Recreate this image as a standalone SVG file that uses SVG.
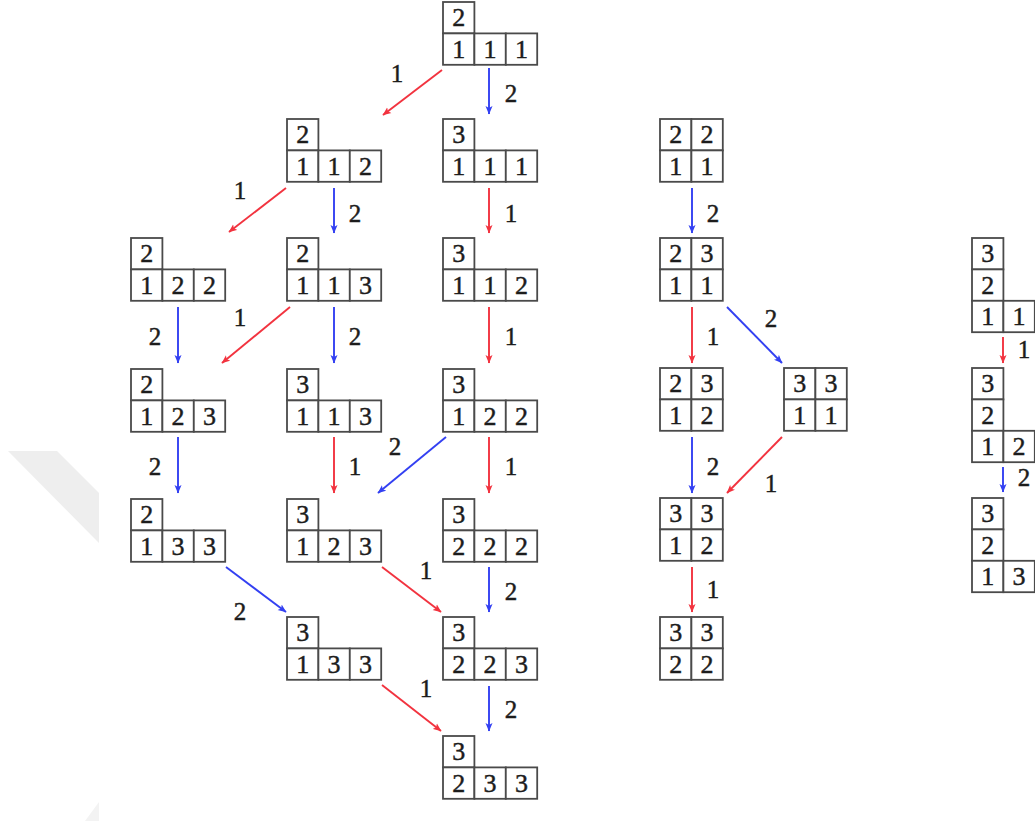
<svg xmlns="http://www.w3.org/2000/svg" width="1035" height="832" viewBox="0 0 1035 832">
<style>
.c{fill:#fff;stroke:#4a4a4a;stroke-width:1.8}
.t{font-family:"Liberation Serif","DejaVu Serif",serif;font-size:26px;fill:#1c1c1c;stroke:#1c1c1c;stroke-width:0.45;text-anchor:middle}
.l{font-family:"Liberation Serif","DejaVu Serif",serif;font-size:25px;fill:#1c1c1c;stroke:#1c1c1c;stroke-width:0.45;text-anchor:middle}
.r{stroke:#f2333f;stroke-width:1.9;fill:none;marker-end:url(#ar)}
.b{stroke:#3340f2;stroke-width:1.9;fill:none;marker-end:url(#ab)}
</style>
<defs>
<marker id="ar" markerUnits="userSpaceOnUse" markerWidth="10" markerHeight="8" refX="8" refY="4" orient="auto"><path d="M0,0.5 L8.5,4 L0,7.5 L2,4 z" fill="#f2333f"/></marker>
<marker id="ab" markerUnits="userSpaceOnUse" markerWidth="10" markerHeight="8" refX="8" refY="4" orient="auto"><path d="M0,0.5 L8.5,4 L0,7.5 L2,4 z" fill="#3340f2"/></marker>
</defs>
<rect width="1035" height="832" fill="#fff"/>
<g id="watermark">
<polygon points="8,451 57,451 99,493 99,543" fill="#eeeeee"/>
<polygon points="99,802 99,821 85,821" fill="#f3f3f3"/>
</g>
<g id="connectors">
<line class="r" x1="442" y1="70" x2="383" y2="115"/><text class="l" x="397" y="82">1</text>
<line class="b" x1="489" y1="68" x2="489" y2="114"/><text class="l" x="511" y="102">2</text>
<line class="r" x1="286" y1="188" x2="229" y2="232"/><text class="l" x="240" y="199">1</text>
<line class="b" x1="334" y1="188" x2="334" y2="233"/><text class="l" x="355" y="222">2</text>
<line class="r" x1="489" y1="188" x2="489" y2="233"/><text class="l" x="511" y="222">1</text>
<line class="b" x1="178" y1="307" x2="178" y2="363"/><text class="l" x="155" y="345">2</text>
<line class="r" x1="290" y1="307" x2="222" y2="363"/><text class="l" x="240" y="326">1</text>
<line class="b" x1="334" y1="307" x2="334" y2="363"/><text class="l" x="355" y="345">2</text>
<line class="r" x1="489" y1="307" x2="489" y2="363"/><text class="l" x="511" y="345">1</text>
<line class="b" x1="178" y1="437" x2="178" y2="493"/><text class="l" x="155" y="475">2</text>
<line class="r" x1="334" y1="437" x2="334" y2="493"/><text class="l" x="355" y="475">1</text>
<line class="b" x1="446" y1="437" x2="378" y2="493"/><text class="l" x="395" y="455">2</text>
<line class="r" x1="489" y1="437" x2="489" y2="493"/><text class="l" x="511" y="475">1</text>
<line class="b" x1="226" y1="567" x2="286" y2="612"/><text class="l" x="240" y="620">2</text>
<line class="r" x1="382" y1="567" x2="441" y2="612"/><text class="l" x="426" y="579">1</text>
<line class="b" x1="489" y1="567" x2="489" y2="612"/><text class="l" x="511" y="600">2</text>
<line class="r" x1="382" y1="685" x2="441" y2="731"/><text class="l" x="426" y="697">1</text>
<line class="b" x1="489" y1="686" x2="489" y2="731"/><text class="l" x="511" y="718">2</text>
<line class="b" x1="692" y1="188" x2="692" y2="233"/><text class="l" x="713" y="222">2</text>
<line class="r" x1="692" y1="307" x2="692" y2="363"/><text class="l" x="713" y="345">1</text>
<line class="b" x1="727" y1="307" x2="782" y2="363"/><text class="l" x="771" y="327">2</text>
<line class="b" x1="692" y1="437" x2="692" y2="493"/><text class="l" x="713" y="475">2</text>
<line class="r" x1="782" y1="437" x2="727" y2="493"/><text class="l" x="771" y="492">1</text>
<line class="r" x1="692" y1="567" x2="692" y2="612"/><text class="l" x="713" y="598">1</text>
<line class="r" x1="1003" y1="337" x2="1003" y2="363"/><text class="l" x="1024" y="358">1</text>
<line class="b" x1="1003" y1="467" x2="1003" y2="492"/><text class="l" x="1024" y="486">2</text>
</g>
<g id="n-A" transform="translate(443,2)"><rect class="c" x="0" y="0" width="31.4" height="31.4"/><rect class="c" x="0" y="31.4" width="31.4" height="31.4"/><rect class="c" x="31.4" y="31.4" width="31.4" height="31.4"/><rect class="c" x="62.8" y="31.4" width="31.4" height="31.4"/><text class="t" x="15.7" y="24.4">2</text><text class="t" x="15.7" y="55.8">1</text><text class="t" x="47.1" y="55.8">1</text><text class="t" x="78.5" y="55.8">1</text></g>
<g id="n-B" transform="translate(287,119)"><rect class="c" x="0" y="0" width="31.4" height="31.4"/><rect class="c" x="0" y="31.4" width="31.4" height="31.4"/><rect class="c" x="31.4" y="31.4" width="31.4" height="31.4"/><rect class="c" x="62.8" y="31.4" width="31.4" height="31.4"/><text class="t" x="15.7" y="24.4">2</text><text class="t" x="15.7" y="55.8">1</text><text class="t" x="47.1" y="55.8">1</text><text class="t" x="78.5" y="55.8">2</text></g>
<g id="n-C" transform="translate(443,119)"><rect class="c" x="0" y="0" width="31.4" height="31.4"/><rect class="c" x="0" y="31.4" width="31.4" height="31.4"/><rect class="c" x="31.4" y="31.4" width="31.4" height="31.4"/><rect class="c" x="62.8" y="31.4" width="31.4" height="31.4"/><text class="t" x="15.7" y="24.4">3</text><text class="t" x="15.7" y="55.8">1</text><text class="t" x="47.1" y="55.8">1</text><text class="t" x="78.5" y="55.8">1</text></g>
<g id="n-D" transform="translate(131,238)"><rect class="c" x="0" y="0" width="31.4" height="31.4"/><rect class="c" x="0" y="31.4" width="31.4" height="31.4"/><rect class="c" x="31.4" y="31.4" width="31.4" height="31.4"/><rect class="c" x="62.8" y="31.4" width="31.4" height="31.4"/><text class="t" x="15.7" y="24.4">2</text><text class="t" x="15.7" y="55.8">1</text><text class="t" x="47.1" y="55.8">2</text><text class="t" x="78.5" y="55.8">2</text></g>
<g id="n-E" transform="translate(287,238)"><rect class="c" x="0" y="0" width="31.4" height="31.4"/><rect class="c" x="0" y="31.4" width="31.4" height="31.4"/><rect class="c" x="31.4" y="31.4" width="31.4" height="31.4"/><rect class="c" x="62.8" y="31.4" width="31.4" height="31.4"/><text class="t" x="15.7" y="24.4">2</text><text class="t" x="15.7" y="55.8">1</text><text class="t" x="47.1" y="55.8">1</text><text class="t" x="78.5" y="55.8">3</text></g>
<g id="n-F" transform="translate(443,238)"><rect class="c" x="0" y="0" width="31.4" height="31.4"/><rect class="c" x="0" y="31.4" width="31.4" height="31.4"/><rect class="c" x="31.4" y="31.4" width="31.4" height="31.4"/><rect class="c" x="62.8" y="31.4" width="31.4" height="31.4"/><text class="t" x="15.7" y="24.4">3</text><text class="t" x="15.7" y="55.8">1</text><text class="t" x="47.1" y="55.8">1</text><text class="t" x="78.5" y="55.8">2</text></g>
<g id="n-G" transform="translate(131,369)"><rect class="c" x="0" y="0" width="31.4" height="31.4"/><rect class="c" x="0" y="31.4" width="31.4" height="31.4"/><rect class="c" x="31.4" y="31.4" width="31.4" height="31.4"/><rect class="c" x="62.8" y="31.4" width="31.4" height="31.4"/><text class="t" x="15.7" y="24.4">2</text><text class="t" x="15.7" y="55.8">1</text><text class="t" x="47.1" y="55.8">2</text><text class="t" x="78.5" y="55.8">3</text></g>
<g id="n-H" transform="translate(287,369)"><rect class="c" x="0" y="0" width="31.4" height="31.4"/><rect class="c" x="0" y="31.4" width="31.4" height="31.4"/><rect class="c" x="31.4" y="31.4" width="31.4" height="31.4"/><rect class="c" x="62.8" y="31.4" width="31.4" height="31.4"/><text class="t" x="15.7" y="24.4">3</text><text class="t" x="15.7" y="55.8">1</text><text class="t" x="47.1" y="55.8">1</text><text class="t" x="78.5" y="55.8">3</text></g>
<g id="n-I" transform="translate(443,369)"><rect class="c" x="0" y="0" width="31.4" height="31.4"/><rect class="c" x="0" y="31.4" width="31.4" height="31.4"/><rect class="c" x="31.4" y="31.4" width="31.4" height="31.4"/><rect class="c" x="62.8" y="31.4" width="31.4" height="31.4"/><text class="t" x="15.7" y="24.4">3</text><text class="t" x="15.7" y="55.8">1</text><text class="t" x="47.1" y="55.8">2</text><text class="t" x="78.5" y="55.8">2</text></g>
<g id="n-J" transform="translate(131,499)"><rect class="c" x="0" y="0" width="31.4" height="31.4"/><rect class="c" x="0" y="31.4" width="31.4" height="31.4"/><rect class="c" x="31.4" y="31.4" width="31.4" height="31.4"/><rect class="c" x="62.8" y="31.4" width="31.4" height="31.4"/><text class="t" x="15.7" y="24.4">2</text><text class="t" x="15.7" y="55.8">1</text><text class="t" x="47.1" y="55.8">3</text><text class="t" x="78.5" y="55.8">3</text></g>
<g id="n-K" transform="translate(287,499)"><rect class="c" x="0" y="0" width="31.4" height="31.4"/><rect class="c" x="0" y="31.4" width="31.4" height="31.4"/><rect class="c" x="31.4" y="31.4" width="31.4" height="31.4"/><rect class="c" x="62.8" y="31.4" width="31.4" height="31.4"/><text class="t" x="15.7" y="24.4">3</text><text class="t" x="15.7" y="55.8">1</text><text class="t" x="47.1" y="55.8">2</text><text class="t" x="78.5" y="55.8">3</text></g>
<g id="n-L" transform="translate(443,499)"><rect class="c" x="0" y="0" width="31.4" height="31.4"/><rect class="c" x="0" y="31.4" width="31.4" height="31.4"/><rect class="c" x="31.4" y="31.4" width="31.4" height="31.4"/><rect class="c" x="62.8" y="31.4" width="31.4" height="31.4"/><text class="t" x="15.7" y="24.4">3</text><text class="t" x="15.7" y="55.8">2</text><text class="t" x="47.1" y="55.8">2</text><text class="t" x="78.5" y="55.8">2</text></g>
<g id="n-M" transform="translate(287,617)"><rect class="c" x="0" y="0" width="31.4" height="31.4"/><rect class="c" x="0" y="31.4" width="31.4" height="31.4"/><rect class="c" x="31.4" y="31.4" width="31.4" height="31.4"/><rect class="c" x="62.8" y="31.4" width="31.4" height="31.4"/><text class="t" x="15.7" y="24.4">3</text><text class="t" x="15.7" y="55.8">1</text><text class="t" x="47.1" y="55.8">3</text><text class="t" x="78.5" y="55.8">3</text></g>
<g id="n-N" transform="translate(443,617)"><rect class="c" x="0" y="0" width="31.4" height="31.4"/><rect class="c" x="0" y="31.4" width="31.4" height="31.4"/><rect class="c" x="31.4" y="31.4" width="31.4" height="31.4"/><rect class="c" x="62.8" y="31.4" width="31.4" height="31.4"/><text class="t" x="15.7" y="24.4">3</text><text class="t" x="15.7" y="55.8">2</text><text class="t" x="47.1" y="55.8">2</text><text class="t" x="78.5" y="55.8">3</text></g>
<g id="n-O" transform="translate(443,736)"><rect class="c" x="0" y="0" width="31.4" height="31.4"/><rect class="c" x="0" y="31.4" width="31.4" height="31.4"/><rect class="c" x="31.4" y="31.4" width="31.4" height="31.4"/><rect class="c" x="62.8" y="31.4" width="31.4" height="31.4"/><text class="t" x="15.7" y="24.4">3</text><text class="t" x="15.7" y="55.8">2</text><text class="t" x="47.1" y="55.8">3</text><text class="t" x="78.5" y="55.8">3</text></g>
<g id="n-P" transform="translate(660,119)"><rect class="c" x="0" y="0" width="31.4" height="31.4"/><rect class="c" x="31.4" y="0" width="31.4" height="31.4"/><rect class="c" x="0" y="31.4" width="31.4" height="31.4"/><rect class="c" x="31.4" y="31.4" width="31.4" height="31.4"/><text class="t" x="15.7" y="24.4">2</text><text class="t" x="47.1" y="24.4">2</text><text class="t" x="15.7" y="55.8">1</text><text class="t" x="47.1" y="55.8">1</text></g>
<g id="n-Q" transform="translate(660,238)"><rect class="c" x="0" y="0" width="31.4" height="31.4"/><rect class="c" x="31.4" y="0" width="31.4" height="31.4"/><rect class="c" x="0" y="31.4" width="31.4" height="31.4"/><rect class="c" x="31.4" y="31.4" width="31.4" height="31.4"/><text class="t" x="15.7" y="24.4">2</text><text class="t" x="47.1" y="24.4">3</text><text class="t" x="15.7" y="55.8">1</text><text class="t" x="47.1" y="55.8">1</text></g>
<g id="n-R" transform="translate(660,368)"><rect class="c" x="0" y="0" width="31.4" height="31.4"/><rect class="c" x="31.4" y="0" width="31.4" height="31.4"/><rect class="c" x="0" y="31.4" width="31.4" height="31.4"/><rect class="c" x="31.4" y="31.4" width="31.4" height="31.4"/><text class="t" x="15.7" y="24.4">2</text><text class="t" x="47.1" y="24.4">3</text><text class="t" x="15.7" y="55.8">1</text><text class="t" x="47.1" y="55.8">2</text></g>
<g id="n-S" transform="translate(784,368)"><rect class="c" x="0" y="0" width="31.4" height="31.4"/><rect class="c" x="31.4" y="0" width="31.4" height="31.4"/><rect class="c" x="0" y="31.4" width="31.4" height="31.4"/><rect class="c" x="31.4" y="31.4" width="31.4" height="31.4"/><text class="t" x="15.7" y="24.4">3</text><text class="t" x="47.1" y="24.4">3</text><text class="t" x="15.7" y="55.8">1</text><text class="t" x="47.1" y="55.8">1</text></g>
<g id="n-T" transform="translate(660,498)"><rect class="c" x="0" y="0" width="31.4" height="31.4"/><rect class="c" x="31.4" y="0" width="31.4" height="31.4"/><rect class="c" x="0" y="31.4" width="31.4" height="31.4"/><rect class="c" x="31.4" y="31.4" width="31.4" height="31.4"/><text class="t" x="15.7" y="24.4">3</text><text class="t" x="47.1" y="24.4">3</text><text class="t" x="15.7" y="55.8">1</text><text class="t" x="47.1" y="55.8">2</text></g>
<g id="n-U" transform="translate(660,617)"><rect class="c" x="0" y="0" width="31.4" height="31.4"/><rect class="c" x="31.4" y="0" width="31.4" height="31.4"/><rect class="c" x="0" y="31.4" width="31.4" height="31.4"/><rect class="c" x="31.4" y="31.4" width="31.4" height="31.4"/><text class="t" x="15.7" y="24.4">3</text><text class="t" x="47.1" y="24.4">3</text><text class="t" x="15.7" y="55.8">2</text><text class="t" x="47.1" y="55.8">2</text></g>
<g id="n-V" transform="translate(972,238)"><rect class="c" x="0" y="0" width="31.4" height="31.4"/><rect class="c" x="0" y="31.4" width="31.4" height="31.4"/><rect class="c" x="0" y="62.8" width="31.4" height="31.4"/><rect class="c" x="31.4" y="62.8" width="31.4" height="31.4"/><text class="t" x="15.7" y="24.4">3</text><text class="t" x="15.7" y="55.8">2</text><text class="t" x="15.7" y="87.2">1</text><text class="t" x="47.1" y="87.2">1</text></g>
<g id="n-W" transform="translate(972,368)"><rect class="c" x="0" y="0" width="31.4" height="31.4"/><rect class="c" x="0" y="31.4" width="31.4" height="31.4"/><rect class="c" x="0" y="62.8" width="31.4" height="31.4"/><rect class="c" x="31.4" y="62.8" width="31.4" height="31.4"/><text class="t" x="15.7" y="24.4">3</text><text class="t" x="15.7" y="55.8">2</text><text class="t" x="15.7" y="87.2">1</text><text class="t" x="47.1" y="87.2">2</text></g>
<g id="n-X" transform="translate(972,498)"><rect class="c" x="0" y="0" width="31.4" height="31.4"/><rect class="c" x="0" y="31.4" width="31.4" height="31.4"/><rect class="c" x="0" y="62.8" width="31.4" height="31.4"/><rect class="c" x="31.4" y="62.8" width="31.4" height="31.4"/><text class="t" x="15.7" y="24.4">3</text><text class="t" x="15.7" y="55.8">2</text><text class="t" x="15.7" y="87.2">1</text><text class="t" x="47.1" y="87.2">3</text></g>
</svg>
